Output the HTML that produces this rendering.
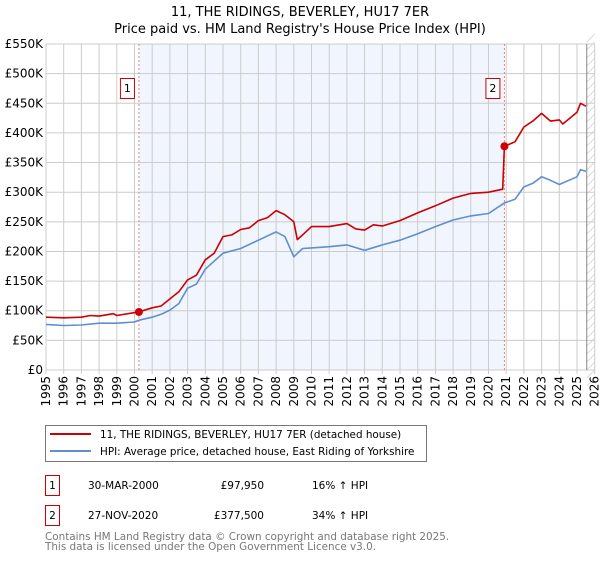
<!DOCTYPE html>
<html><head><meta charset="utf-8"><style>
body{margin:0;background:#fff;font-family:"DejaVu Sans","Liberation Sans",sans-serif;}
svg text{font-family:"DejaVu Sans","Liberation Sans",sans-serif;}
</style></head><body>
<svg id="c" width="600" height="560" xmlns="http://www.w3.org/2000/svg">
<text x="300" y="16" text-anchor="middle" font-size="13">11, THE RIDINGS, BEVERLEY, HU17 7ER</text>
<text x="300" y="33" text-anchor="middle" font-size="13">Price paid vs. HM Land Registry's House Price Index (HPI)</text>
<g id="plot"></g>
<g>
<rect x="45.5" y="425.5" width="381" height="36" fill="#fff" stroke="#777"/>
<line x1="50" y1="434" x2="91" y2="434" stroke="#cc0000" stroke-width="2"/>
<text x="100" y="438" font-size="10.4">11, THE RIDINGS, BEVERLEY, HU17 7ER (detached house)</text>
<line x1="50" y1="451" x2="91" y2="451" stroke="#5f8fcf" stroke-width="2"/>
<text x="100" y="455" font-size="10.4">HPI: Average price, detached house, East Riding of Yorkshire</text>
</g>
<g font-size="10.5">
<rect x="45.5" y="475.5" width="14" height="20" fill="#fff" stroke="#cc0000"/>
<text x="52.5" y="489" text-anchor="middle">1</text>
<text x="88" y="489">30-MAR-2000</text>
<text x="264" y="489" text-anchor="end">£97,950</text>
<text x="312" y="489">16% ↑ HPI</text>
<rect x="45.5" y="505.5" width="14" height="20" fill="#fff" stroke="#cc0000"/>
<text x="52.5" y="519" text-anchor="middle">2</text>
<text x="88" y="519">27-NOV-2020</text>
<text x="264" y="519" text-anchor="end">£377,500</text>
<text x="312" y="519">34% ↑ HPI</text>
</g>
<text x="45" y="540" font-size="10.4" fill="#777">Contains HM Land Registry data © Crown copyright and database right 2025.</text>
<text x="45" y="550" font-size="10.4" fill="#777">This data is licensed under the Open Government Licence v3.0.</text>
</svg>
<script>
const yearTicks=[1995,1996,1997,1998,1999,2000,2001,2002,2003,2004,2005,2006,2007,2008,2009,2010,2011,2012,2013,2014,2015,2016,2017,2018,2019,2020,2021,2022,2023,2024,2025,2026];
const priceTicks=[0,50,100,150,200,250,300,350,400,450,500,550];
const redT=[1995,1996,1997,1997.5,1998,1998.8,1999,2000.25,2001,2001.5,2002,2002.5,2003,2003.5,2004,2004.5,2005,2005.5,2006,2006.5,2007,2007.5,2008,2008.5,2009,2009.2,2009.5,2010,2011,2012,2012.5,2013,2013.5,2014,2015,2016,2017,2018,2019,2020,2020.8,2020.9,2021.5,2022,2022.5,2023,2023.5,2024,2024.2,2025,2025.2,2025.5];
const redV=[89,88,89,92,91,95,92,97.95,105,108,120,132,152,160,186,197,225,228,237,240,252,257,269,262,250,220,228,242,242,247,238,236,245,243,252,265,277,290,298,300,305,377.5,385,410,420,433,420,422,415,435,450,445];
const blueT=[1995,1996,1997,1998,1999,2000,2000.25,2001,2001.5,2002,2002.5,2003,2003.5,2004,2005,2006,2007,2008,2008.5,2009,2009.5,2010,2011,2012,2013,2014,2015,2016,2017,2018,2019,2020,2020.9,2021.5,2022,2022.5,2023,2023.5,2024,2025,2025.2,2025.5];
const blueV=[77,75,76,79,79,81,84,89,94,101,112,138,145,170,197,205,219,233,225,191,205,206,208,211,202,211,219,230,242,253,260,264,282,288,309,315,326,320,313,326,338,335];
const saleT=[2000.25,2020.9];
const saleV=[97.95,377.5];
const saleLabels=["1","2"];

const NS="http://www.w3.org/2000/svg";
const g=document.getElementById('plot');
const X0=46,PX=17.7,Y0=370,PY=0.5927;
const xs=t=>X0+(t-1995)*PX, ys=v=>Y0-v*PY;
function el(tag,attrs){const e=document.createElementNS(NS,tag);for(const k in attrs)e.setAttribute(k,attrs[k]);g.appendChild(e);return e;}
el('rect',{x:X0,y:ys(550),width:xs(2026)-X0,height:Y0-ys(550),fill:'#fff'});
const shade=el('rect',{x:xs(saleT[0]),y:ys(550),width:xs(saleT[1])-xs(saleT[0]),height:Y0-ys(550),fill:'#eef3fd',opacity:0.8});


const hx=xs(2025.55);
for(let y=ys(550)-10;y<Y0+10;y+=8){el('line',{x1:hx,y1:y+8,x2:xs(2026),y2:y,stroke:'#ccc','stroke-width':0.7});}
el('rect',{x:xs(2026),y:0,width:10,height:560,fill:'#fff'});
yearTicks.forEach(t=>{
  const l=el('line',{x1:xs(t),y1:ys(550),x2:xs(t),y2:Y0+4,stroke:'#ccc'});
  
  
  const tx=el('text',{x:0,y:0,'font-size':12,'text-anchor':'end',transform:`translate(${xs(t)+4},${Y0+6}) rotate(-90)`});
  tx.textContent=t;
  
  
});
priceTicks.forEach(v=>{
  const l=el('line',{x1:X0,y1:ys(v),x2:xs(2026),y2:ys(v),stroke:'#ccc'});
  
  
  const tx=el('text',{x:X0-3,y:ys(v)+4,'font-size':12,'text-anchor':'end'});
  tx.textContent=v===0?'£0':'£'+v+'K';
  
  
});
el('line',{x1:hx,y1:ys(550),x2:hx,y2:Y0,stroke:'#888'});
saleT.forEach((t,i)=>{
  const l=el('line',{x1:xs(t),y1:ys(550),x2:xs(t),y2:Y0,stroke:'#f08080','stroke-dasharray':'2,2'});
  
  
  const r=el('rect',{x:xs(t)-18.5,y:78.5,width:14,height:20,fill:'#fff',stroke:'#cc0000'});
  
  
  const tx=el('text',{x:xs(t)-11.5,y:92,'font-size':11,'text-anchor':'middle'});
  tx.textContent=saleLabels[i];
  
  
});
function path(T,V,color,name){
  const d=T.map((t,i)=>(i?'L':'M')+xs(t).toFixed(1)+','+ys(V[i]).toFixed(1)).join('');
  const p=el('path',{d:d,fill:'none',stroke:color,'stroke-width':1.6,'stroke-linejoin':'round'});
  
  
}
path(blueT,blueV,'#5f8fcf','hpi-line');
path(redT,redV,'#cc0000','price-paid-line');
saleT.forEach((t,i)=>{
  const c=el('circle',{cx:xs(t),cy:ys(saleV[i]),r:4,fill:'#cc0000'});
  
  
});
</script>
</body></html>
